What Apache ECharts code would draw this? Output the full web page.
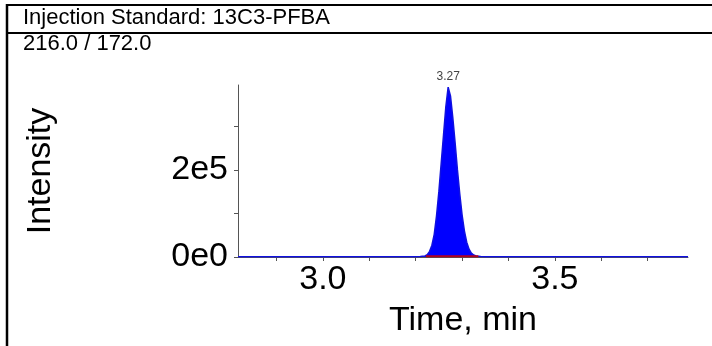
<!DOCTYPE html>
<html>
<head>
<meta charset="utf-8">
<script src="https://cdn.jsdelivr.net/npm/echarts@6/dist/echarts.min.js"></script>
<style>
  html, body { margin: 0; padding: 0; background: #fff; }
  #main { width: 712px; height: 346px; }
</style>
</head>
<body>
<div id="main"></div>
<script>
// chromatogram data (time in min, intensity in cps)
var headerText = "Injection Standard: 13C3-PFBA";
var transitionText = "216.0 / 172.0";
var peakTimes = [2.817, 3.0, 3.1, 3.2, 3.21, 3.22, 3.225, 3.23, 3.235, 3.24, 3.245, 3.25, 3.255, 3.26, 3.265, 3.27,
  3.275, 3.28, 3.285, 3.29, 3.295, 3.3, 3.305, 3.31, 3.315, 3.32, 3.325, 3.33, 3.34, 3.35, 3.5, 3.65, 3.787];
var peakIntensity = [600, 500, 600, 700, 1000, 2500, 5500, 13000, 27000, 52000, 95000, 150000, 215000, 280000, 345000, 390000,
  370000, 320000, 262000, 200000, 145000, 97000, 60000, 34000, 18000, 9000, 4500, 2200, 900, 600, 500, 600, 500];
var baselineTimes = [3.222, 3.335];
var baselineIntensity = [1500, 1500];
var peakRt = 3.27;
var xTicks = [2.9, 3.0, 3.1, 3.2, 3.3, 3.4, 3.5, 3.6, 3.7];
var xLabels = [3.0, 3.5];
var yTicks = [0, 100000, 200000, 300000];
var yLabels = { 0: "0e0", 200000: "2e5" };

var font = "Liberation Sans, Arial, sans-serif";

function pairs(xs, ys) {
  return xs.map(function (x, i) { return [x, ys[i]]; });
}

var chart = echarts.init(document.getElementById("main"));
var option = {
  animation: false,
  backgroundColor: "#fff",
  title: [
    { text: headerText, left: 23, top: 7, padding: 0, textStyle: { fontFamily: font, fontSize: 22, fontWeight: "normal", color: "#000" } },
    { text: transitionText, left: 23, top: 33, padding: 0, textStyle: { fontFamily: font, fontSize: 22, fontWeight: "normal", color: "#000" } }
  ],
  graphic: [
    { type: "line", shape: { x1: 7, y1: 4, x2: 7, y2: 346 }, style: { stroke: "#000", lineWidth: 2.5 } },
    { type: "line", shape: { x1: 6, y1: 5, x2: 712, y2: 5 }, style: { stroke: "#000", lineWidth: 2 } },
    { type: "line", shape: { x1: 6, y1: 33, x2: 712, y2: 33 }, style: { stroke: "#000", lineWidth: 2 } }
  ],
  grid: { left: 238, right: 24, top: 85, bottom: 89 },
  xAxis: {
    type: "value",
    min: 2.817,
    max: 3.787,
    name: "Time, min",
    nameLocation: "middle",
    nameGap: 47,
    nameTextStyle: { fontFamily: font, fontSize: 34, color: "#000" },
    splitLine: { show: false },
    axisLine: { lineStyle: { color: "#555", width: 1 } },
    axisTick: { customValues: xTicks, length: 4, lineStyle: { color: "#555" } },
    axisLabel: {
      customValues: xLabels,
      margin: 6,
      fontFamily: font, fontSize: 34, color: "#000",
      formatter: function (v) { return v.toFixed(1); }
    }
  },
  yAxis: {
    type: "value",
    min: 0,
    max: 395000,
    name: "Intensity",
    nameLocation: "middle",
    nameGap: 180,
    nameTextStyle: { fontFamily: font, fontSize: 34, color: "#000" },
    splitLine: { show: false },
    axisLine: { show: true, lineStyle: { color: "#555", width: 1 } },
    axisTick: { show: true, customValues: yTicks, length: 4, lineStyle: { color: "#555" } },
    axisLabel: {
      customValues: [0, 200000],
      margin: 10,
      fontFamily: font, fontSize: 34, color: "#000",
      formatter: function (v) { return yLabels[v]; }
    }
  },
  series: [
    {
      type: "line",
      data: pairs(peakTimes, peakIntensity),
      symbol: "none",
      smooth: false,
      lineStyle: { color: "#1010e0", width: 1.5 },
      areaStyle: { color: "#0000ff", opacity: 1 },
      markPoint: {
        symbol: "circle",
        symbolSize: 0,
        data: [{ coord: [peakRt, 390000], value: peakRt.toFixed(2) }],
        label: { show: true, position: "top", distance: 4, fontFamily: font, fontSize: 12, color: "#444", formatter: "{c}" }
      }
    },
    {
      type: "line",
      data: pairs(baselineTimes, baselineIntensity),
      symbol: "none",
      lineStyle: { color: "#b00020", width: 2 }
    }
  ]
};
chart.setOption(option);
</script>
</body>
</html>
